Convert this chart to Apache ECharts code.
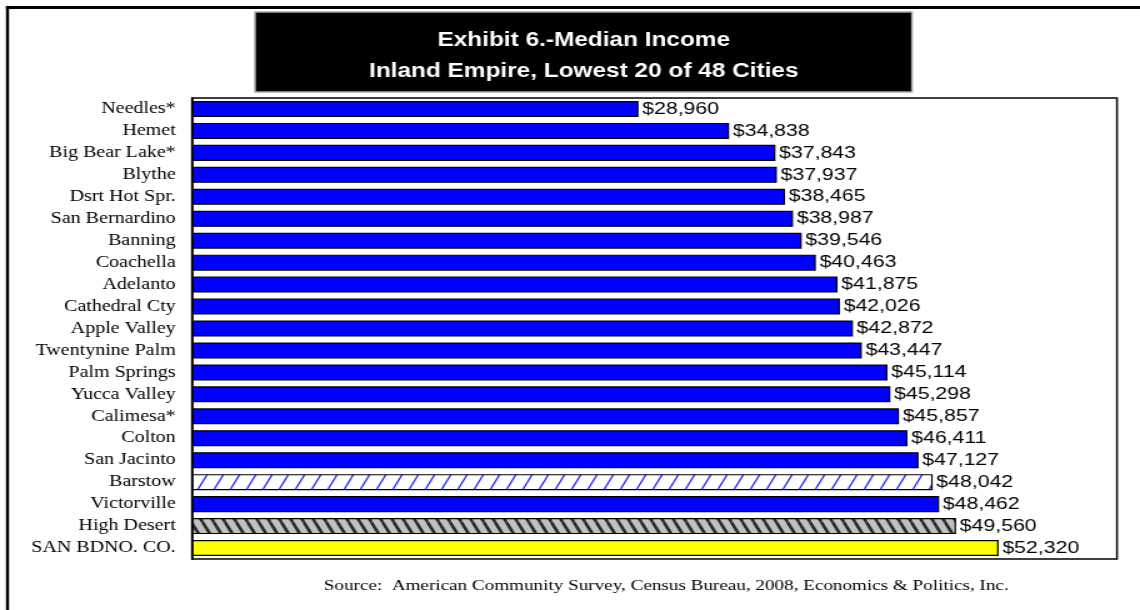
<!DOCTYPE html>
<html>
<head>
<meta charset="utf-8">
<title>Exhibit 6 - Median Income</title>
<script src="https://cdn.jsdelivr.net/npm/echarts@6/dist/echarts.min.js"></script>
<style>
  html, body { margin: 0; padding: 0; background: #fff; overflow: hidden; }
  /* the exhibit is laid out on a 912px-wide canvas and widened to fill the page */
  #chart { width: 912px; height: 610px; transform: scaleX(1.25); transform-origin: 0 0; }
</style>
</head>
<body>
<div id="chart"></div>
<script>
// Median household income, lowest 20 of 48 Inland Empire cities (plus area totals)
const cities = [
  'Needles*', 'Hemet', 'Big Bear Lake*', 'Blythe', 'Dsrt Hot Spr.', 'San Bernardino',
  'Banning', 'Coachella', 'Adelanto', 'Cathedral Cty', 'Apple Valley', 'Twentynine Palm',
  'Palm Springs', 'Yucca Valley', 'Calimesa*', 'Colton', 'San Jacinto', 'Barstow',
  'Victorville', 'High Desert', 'SAN BDNO. CO.'
];
const incomes = [
  28960, 34838, 37843, 37937, 38465, 38987, 39546, 40463, 41875, 42026, 42872,
  43447, 45114, 45298, 45857, 46411, 47127, 48042, 48462, 49560, 52320
];
const titleLines = ['Exhibit 6.-Median Income', 'Inland Empire, Lowest 20 of 48 Cities'];
const sourceNote = 'Source:  American Community Survey, Census Bureau, 2008, Economics & Politics, Inc.';

// Hatched fills drawn onto small tiles
function hatchTile(w, h, bg, stroke, lw, dir) {
  const c = document.createElement('canvas');
  c.width = w; c.height = h;
  const ctx = c.getContext('2d');
  ctx.fillStyle = bg;
  ctx.fillRect(0, 0, w, h);
  ctx.strokeStyle = stroke;
  ctx.lineWidth = lw;
  for (let k = -1; k <= 1; k++) {
    ctx.beginPath();
    if (dir === 'up') {
      ctx.moveTo(k * w, h);
      ctx.lineTo(k * w + w, 0);
    } else {
      ctx.moveTo(k * w, 0);
      ctx.lineTo(k * w + w, h);
    }
    ctx.stroke();
  }
  return c;
}

const fills = {
  'Barstow': { image: hatchTile(13, 26, '#ffffff', '#2b2bff', 1.3, 'up'), repeat: 'repeat' },
  'High Desert': { image: hatchTile(9, 18, '#c0c0c0', '#2a2a2a', 2.6, 'down'), repeat: 'repeat' },
  'SAN BDNO. CO.': '#ffff00'
};

const barData = incomes.map((v, i) => ({
  value: v,
  itemStyle: { color: fills[cities[i]] || '#0000ff' }
}));

const chart = echarts.init(document.getElementById('chart'), null, { renderer: 'canvas' });

chart.setOption({
  backgroundColor: '#ffffff',
  animation: false,
  title: [
    {
      text: titleLines.join('\n'),
      left: 467,
      top: 25,
      textAlign: 'center',
      padding: 0,
      textStyle: {
        color: '#ffffff',
        fontFamily: 'Liberation Sans, Arial, sans-serif',
        fontSize: 19.5,
        fontWeight: 'bold',
        lineHeight: 31
      }
    },
    {
      text: sourceNote,
      left: 533,
      top: 578,
      textAlign: 'center',
      padding: 0,
      textStyle: {
        color: '#000000',
        fontFamily: 'Liberation Serif, Times New Roman, serif',
        fontSize: 15.3,
        fontWeight: 'normal'
      }
    }
  ],
  graphic: [
    // outer frame (top and left edges)
    { type: 'rect', shape: { x: 4.8, y: 6, width: 912, height: 3 }, style: { fill: '#000' }, z: 10 },
    { type: 'rect', shape: { x: 4.8, y: 6, width: 2.4, height: 610 }, style: { fill: '#000' }, z: 10 },
    // title panel
    {
      type: 'rect',
      shape: { x: 204, y: 12, width: 525.6, height: 80 },
      style: { fill: '#000000', stroke: '#a8a8a8', lineWidth: 1.5 },
      z: 0
    }
  ],
  grid: {
    left: 153.6,
    right: 18.4,
    top: 98,
    bottom: 51,
    show: true,
    backgroundColor: '#ffffff',
    borderColor: '#000000',
    borderWidth: 1.5
  },
  xAxis: {
    type: 'value',
    min: 0,
    max: 60000,
    axisLabel: { show: false },
    axisTick: { show: false },
    axisLine: { show: false },
    splitLine: { show: false }
  },
  yAxis: {
    type: 'category',
    data: cities,
    inverse: true,
    axisTick: { show: false },
    axisLine: { show: true, lineStyle: { color: '#000', width: 1.5 } },
    axisLabel: {
      margin: 13,
      color: '#000000',
      fontFamily: 'Liberation Serif, Times New Roman, serif',
      fontSize: 16
    }
  },
  series: [{
    type: 'bar',
    data: barData,
    barCategoryGap: '27%',
    itemStyle: { borderColor: '#000000', borderWidth: 1.2 },
    label: {
      show: true,
      position: 'right',
      distance: 3,
      color: '#000000',
      fontFamily: 'Liberation Sans, Arial, sans-serif',
      fontSize: 17,
      formatter: p => '$' + p.value.toLocaleString('en-US')
    }
  }]
});
</script>
</body>
</html>
